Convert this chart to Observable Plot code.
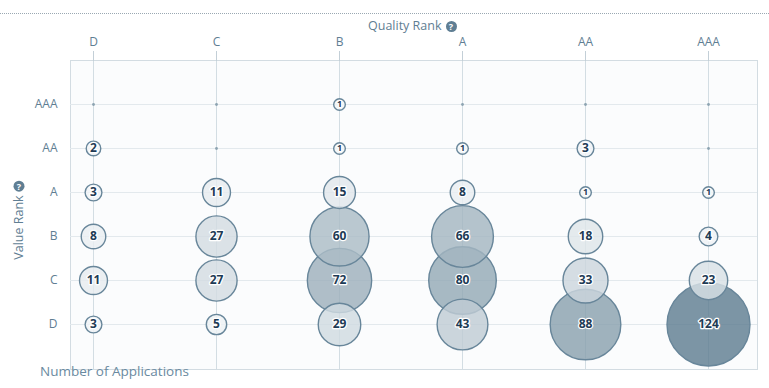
<!DOCTYPE html>
<html>
<head>
<meta charset="utf-8">
<script src="https://cdn.jsdelivr.net/npm/d3@7"></script>
<script src="https://cdn.jsdelivr.net/npm/@observablehq/plot@0.6"></script>
<style>
  body { margin: 0; background: #fff; font-family: "Open Sans", sans-serif; }
  #wrap { position: relative; width: 769px; height: 388px; overflow: hidden; }
  #dotline { position: absolute; left: 0; top: 13px; width: 769px; border-top: 1px dotted #9aa8b2; }
  .lbl { position: absolute; color: #5f7e93; font-size: 12.5px; white-space: nowrap; }
  .q { display: inline-block; width: 11px; height: 11px; border-radius: 50%; background: #5f7e93; color: #fff;
       font-size: 9px; font-weight: bold; line-height: 11px; text-align: center; margin-left: 4px; vertical-align: 0px; }
  #chart { position: absolute; left: 0; top: 0; }
</style>
</head>
<body>
<div id="wrap">
  <div id="dotline"></div>
  <div id="chart"></div>
  <div class="lbl" id="qlabel" style="left:368px; top:17px;">Quality Rank<span class="q">?</span></div>
  <div class="lbl" id="vlabel" style="left:18px; top:220px; transform: translate(-50%,-50%) rotate(-90deg);">Value Rank<span class="q" style="transform: rotate(90deg);">?</span></div>
  <div class="lbl" style="left:40px; top:362px; font-size:13.5px; color:#6a8aa0;">Number of Applications</div>
</div>
<script>
// Quality rank (columns, left to right)
const qualities = ["D", "C", "B", "A", "AA", "AAA"];
// Value rank (rows, top to bottom)
const valueRanks = ["AAA", "AA", "A", "B", "C", "D"];
// Counts per value rank row, in quality order D..AAA
const rowAAA = [0, 0, 1, 0, 0, 0];
const rowAA  = [2, 0, 1, 1, 3, 0];
const rowA   = [3, 11, 15, 8, 1, 1];
const rowB   = [8, 27, 60, 66, 18, 4];
const rowC   = [11, 27, 72, 80, 33, 23];
const rowD   = [3, 5, 29, 43, 88, 124];
const rows = [rowAAA, rowAA, rowA, rowB, rowC, rowD];

const cells = [];
valueRanks.forEach((v, i) => {
  qualities.forEach((q, j) => {
    cells.push({quality: q, value: v, n: rows[i][j]});
  });
});
const zeros = cells.filter(d => d.n === 0);
const filled = cells.filter(d => d.n > 0);
const ones = filled.filter(d => d.n === 1);
const bigger = filled.filter(d => d.n > 1);
const maxN = d3.max(filled, d => d.n);

const chart = Plot.plot({
  width: 769,
  height: 388,
  marginTop: 60,
  marginBottom: 19,
  marginLeft: 70,
  marginRight: 12,
  style: {fontFamily: "Open Sans, sans-serif", fontSize: "12px", color: "#5f7e93", background: "transparent"},
  x: {type: "point", domain: qualities, range: [91, 710], padding: 0, axis: null},
  y: {type: "point", domain: valueRanks, range: [103, 324], padding: 0, axis: null},
  r: {type: "pow", exponent: 0.5, domain: [0, maxN], range: [2.3, 41.5]},
  color: {type: "linear", domain: [0, maxN], range: ["#f3f6f8", "#5f7e91"]},
  marks: [
    Plot.frame({fill: "#fbfcfd", stroke: "#d3dce2"}),
    Plot.gridX(qualities, {x: d => d, stroke: "#d3dde3", strokeOpacity: 1}),
    Plot.gridY(valueRanks, {y: d => d, stroke: "#e3e9ed", strokeOpacity: 1}),
    Plot.axisX({anchor: "top", tickSize: 10, tickPadding: 5, stroke: "#c3cfd7", fill: "#5f7e93", fontSize: 12, label: null}),
    Plot.axisY({anchor: "left", tickSize: 0, tickPadding: 13, fill: "#5f7e93", fontSize: 12, label: null}),
    Plot.dot(zeros, {x: "quality", y: "value", r: 1.4, fill: "#8da3b1", stroke: null}),
    Plot.dot(filled, {x: "quality", y: "value", r: "n", fill: "n", fillOpacity: 0.82, stroke: "#68869a", strokeWidth: 1.4}),
    Plot.text(bigger, {x: "quality", y: "value", text: d => String(d.n), fill: "#1e3b55", fontWeight: "bold", fontSize: 12, stroke: "white", strokeWidth: 2.5}),
    Plot.text(ones, {x: "quality", y: "value", text: d => String(d.n), fill: "#1e3b55", fontWeight: "bold", fontSize: 9, stroke: "white", strokeWidth: 2})
  ]
});
document.getElementById("chart").appendChild(chart);
</script>
</body>
</html>
